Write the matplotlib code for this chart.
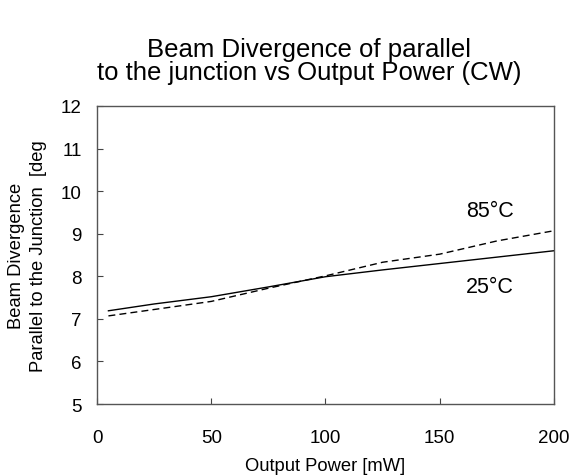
import matplotlib.pyplot as plt

plt.rcParams['font.family'] = ['Liberation Sans', 'DejaVu Sans']

# output power [mW]
power = [5, 25, 50, 75, 100, 125, 150, 175, 200]
# beam divergence parallel [deg]
div_25 = [7.19, 7.35, 7.52, 7.75, 7.99, 8.15, 8.30, 8.45, 8.60]
div_85 = [7.07, 7.22, 7.41, 7.72, 8.01, 8.33, 8.52, 8.83, 9.07]

fig = plt.figure(figsize=(5.73, 4.77), dpi=100)
ax = fig.add_axes([0.1693, 0.1509, 0.7975, 0.6248])

ax.plot(power, div_25, color='black', lw=1.0, ls='-')
ax.plot(power, div_85, color='black', lw=1.0, ls=(0, (5, 3)))

ax.text(172, 9.55, '85°C', fontsize=15.5, ha='center', va='center')
ax.text(172, 7.75, '25°C', fontsize=15.5, ha='center', va='center')

ax.set_xlim(0, 200)
ax.set_ylim(5, 12)
ax.set_xticks([0, 50, 100, 150, 200])
ax.set_yticks(range(5, 13))
ax.tick_params(direction='in', length=4, labelsize=13.5, colors='#444444',
               labelcolor='black')
ax.tick_params(axis='x', pad=18)
ax.tick_params(axis='y', pad=11)
for s in ax.spines.values():
    s.set_color('#555555')
    s.set_linewidth(1.0)

ax.set_xlabel('Output Power [mW]', fontsize=13.2, labelpad=8)
ax.set_ylabel('Beam Divergence\nParallel to the Junction  [deg', fontsize=13.2,
              labelpad=10, linespacing=1.4)

fig.suptitle('Beam Divergence of parallel\nto the junction vs Output Power (CW)',
             fontsize=18.5, y=0.92, x=0.539, linespacing=0.92)

fig.savefig('out.png', dpi=100)
